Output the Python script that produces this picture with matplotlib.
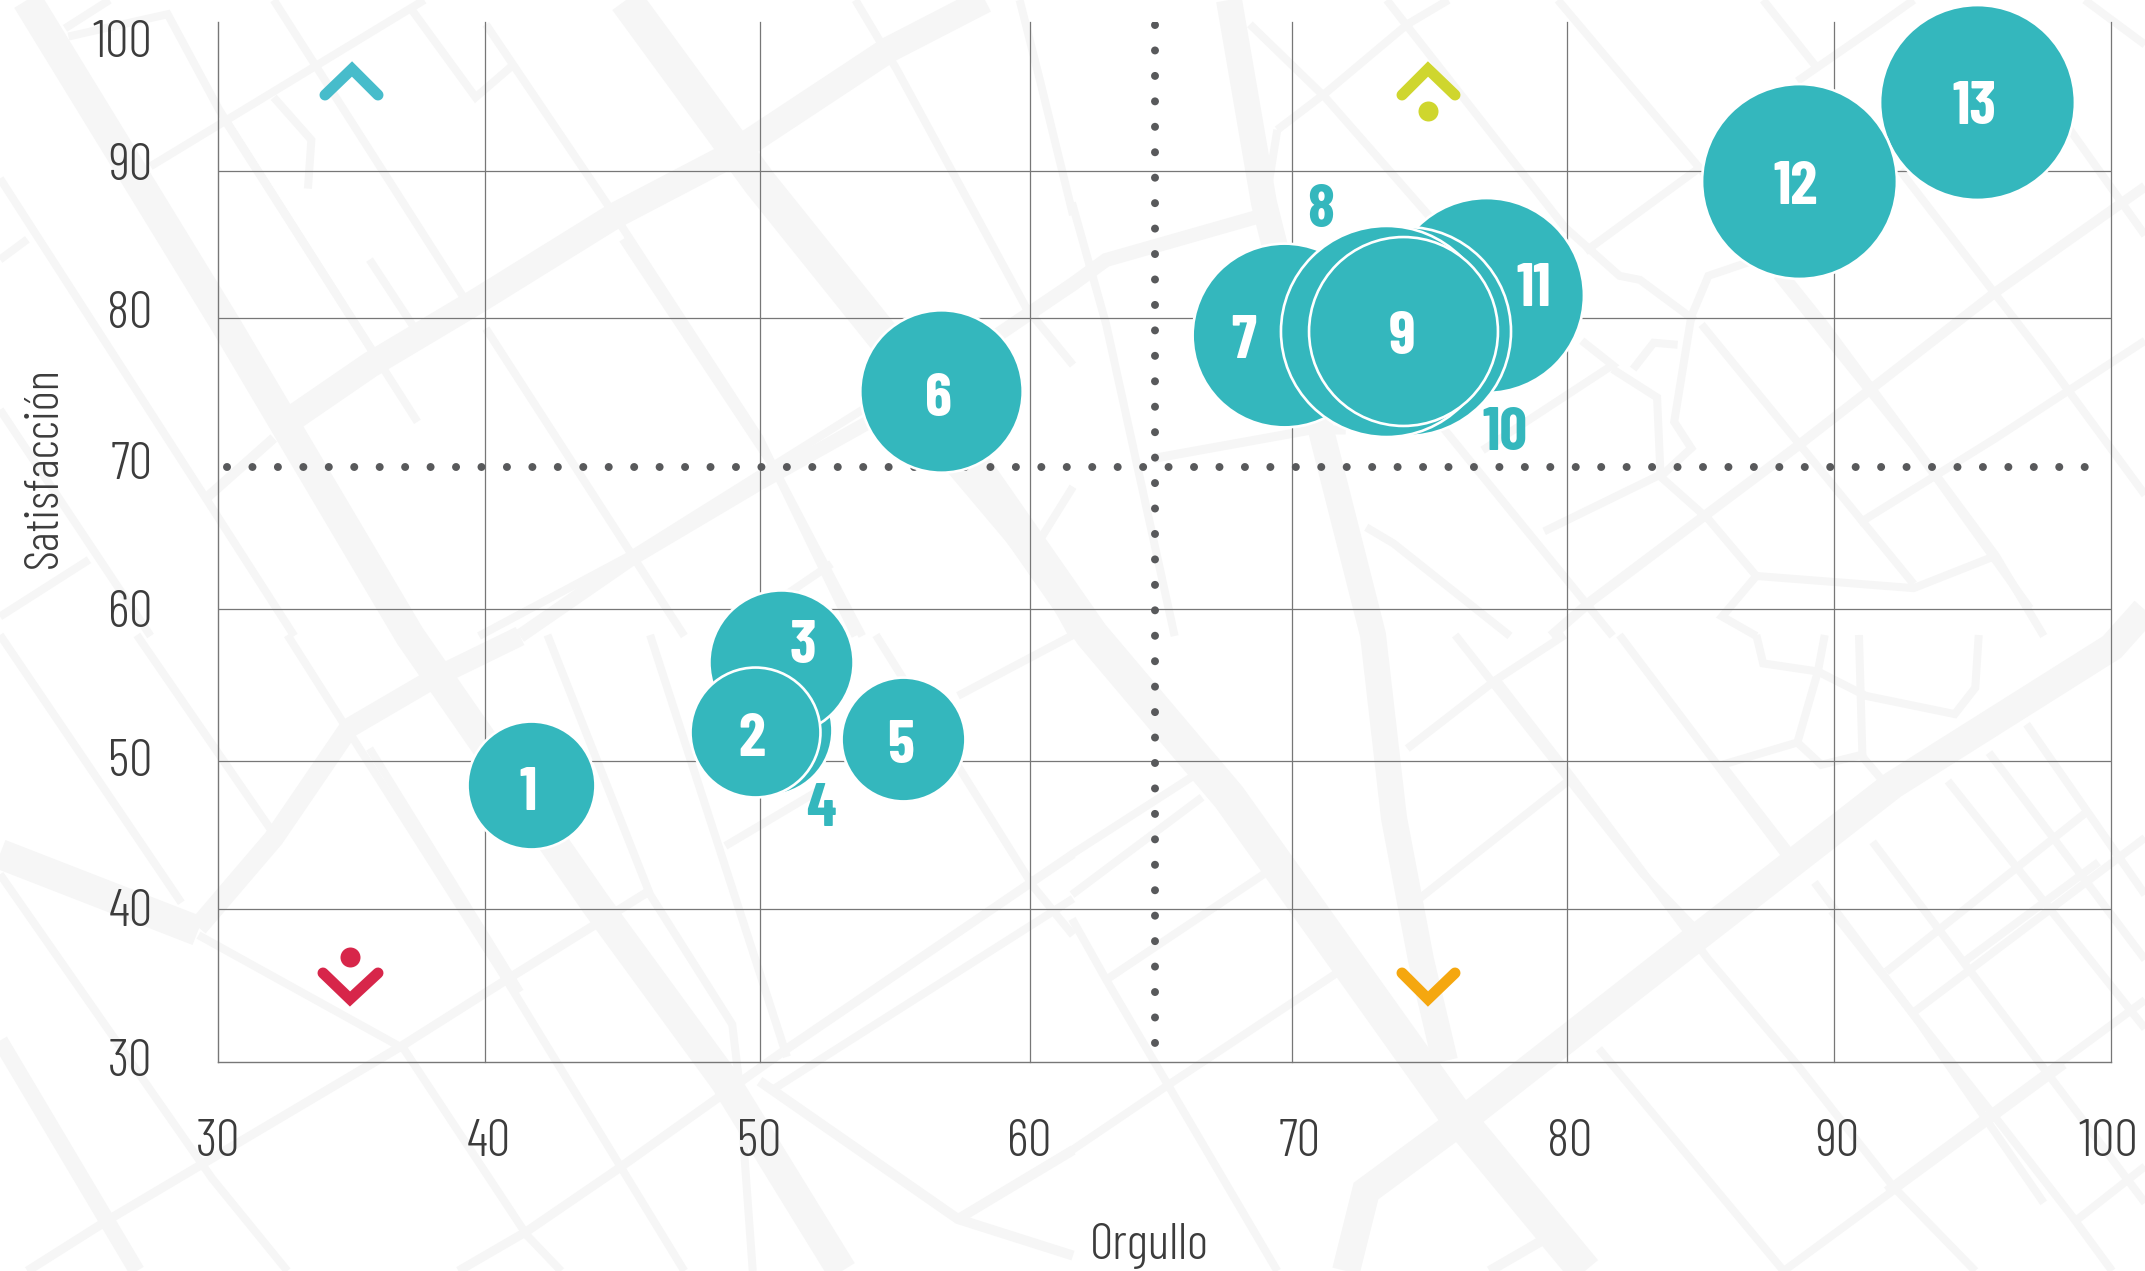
#coding=utf-8
import matplotlib
matplotlib.use('Agg')
import matplotlib.pyplot as plt

W, H = 2145, 1271
PX = 0.72  # one pixel in points at dpi=100

# burbujas
nums = ['1', '2', '3', '4', '5', '6', '7', '8', '9', '10', '11', '12', '13']
orgullo = [41.58, 49.86, 50.82, 50.30, 55.33, 56.74, 69.42, 73.19, 73.82, 73.93, 76.89, 88.47, 95.05]
satisf = [48.64, 52.21, 56.92, 52.35, 51.74, 75.16, 78.93, 79.20, 79.20, 79.20, 81.63, 89.30, 94.62]
areas = [8480, 8750, 10770, 8750, 7950, 13670, 17500, 23100, 18500, 22650, 19680, 19680, 19680]
draw_order = [0, 4, 5, 6, 10, 12, 11, 3, 2, 1, 9, 7, 8]

# etiquetas de las burbujas
label_x = [41.46, 49.75, 51.63, 52.30, 55.22, 56.63, 67.94, 70.79, 73.79, 77.60, 78.67, 88.32, 94.94]
label_y = [48.07, 51.64, 57.90, 46.93, 51.17, 74.59, 78.43, 87.31, 78.70, 72.30, 81.93, 88.86, 94.18]
label_teal = ['4', '8', '10']

# ejes
tick_labels = ['30', '40', '50', '60', '70', '80', '90', '100']
xtick_pos = [30.0, 40.0, 50.0, 60.0, 70.0, 80.0, 89.9, 99.9]
ytick_pos = [30.3, 40.4, 50.5, 60.5, 70.5, 80.65, 90.6, 98.9]
xgrid = [39.86, 50.04, 60.03, 69.72, 79.9, 89.77, 100.0]
ygrid = [40.3, 50.26, 60.49, 80.08, 89.97]
cut_x = 64.65
cut_y = 70.05

TEAL = '#34b7bd'
GREY = '#777777'
DOT = '#58595b'
INK = '#3c3c3c'
ROAD = '#f6f6f6'

# fondo: trazos del mapa (origen del recorte, ancho, puntos)
sx, sy = 1568 / 1073, 1568 / 636
roads = [
    # avenidas anchas en pixeles reales
    (None, 26, [(985, 0), (890, 49), (725, 158), (616, 215), (479, 300), (370, 365), (287, 422)]),
    (None, 30, [(27, 0), (226, 325), (410, 636), (595, 903), (725, 1081), (842, 1271)]),
    (None, 34, [(626, 0), (760, 183), (890, 345), (1092, 635), (1229, 797), (1455, 1114), (1585, 1271)]),
    (None, 26, [(1229, 0), (1264, 203), (1325, 446), (1373, 635), (1394, 818), (1421, 960), (1445, 1061)]),
    (None, 28, [(2145, 610), (2112, 647), (1893, 785), (1695, 939), (1476, 1110), (1366, 1191), (1346, 1271)]),
    (None, 30, [(0, 854), (198, 931)]),
    (None, 20, [(198, 927), (274, 838), (349, 728), (438, 676), (520, 636)]),
    (None, 14, [(520, 636), (630, 560), (760, 483), (869, 422), (1073, 284), (1106, 260), (1264, 215)]),
    # zona superior izquierda
    ((0, 0), 8, [(95, 70), (160, 0)]),
    ((0, 0), 8, [(100, 90), (245, 35), (320, 270), (550, 880)]),
    ((0, 0), 8, [(400, 0), (680, 740)]),
    ((0, 0), 8, [(600, 20), (695, 240), (750, 160)]),
    ((0, 0), 8, [(710, 60), (890, 510), (1110, 1080), (1250, 1568)]),
    ((0, 0), 8, [(1250, 0), (1310, 170), (1500, 760), (1568, 900)]),
    ((0, 0), 8, [(0, 440), (290, 1200), (430, 1568)]),
    ((0, 0), 8, [(620, 0), (220, 410)]),
    ((0, 0), 8, [(40, 590), (0, 640)]),
    ((0, 0), 8, [(400, 240), (455, 345), (450, 465)]),
    ((0, 0), 8, [(540, 640), (610, 820)]),
    ((0, 0), 8, [(330, 300), (610, 1040)]),
    ((0, 0), 8, [(710, 810), (1000, 1568)]),
    ((0, 0), 8, [(910, 590), (1130, 1150), (1260, 1568)]),
    ((0, 0), 10, [(300, 1230), (400, 1080)]),
    ((0, 0), 8, [(0, 1010), (220, 1568)]),
    ((0, 0), 8, [(0, 1520), (130, 1380)]),
    ((0, 0), 8, [(1270, 1000), (920, 1370), (700, 1568)]),
    ((0, 0), 8, [(1215, 1390), (1060, 1568)]),
    ((0, 0), 8, [(1510, 770), (1568, 700)]),
    ((0, 0), 8, [(1490, 0), (1520, 200), (1568, 530)]),
    ((0, 0), 8, [(1390, 1160), (1520, 1420), (1568, 1568)]),
    ((0, 0), 8, [(1520, 1330), (1568, 1200)]),
    # zona inferior izquierda
    ((0, 635), 8, [(0, 0), (265, 660)]),
    ((0, 635), 8, [(200, 0), (400, 490)]),
    ((0, 635), 8, [(420, 0), (740, 850), (1000, 1568)]),
    ((0, 635), 8, [(800, 0), (950, 640), (1070, 960), (1080, 1100), (1100, 1568)]),
    ((0, 635), 8, [(950, 0), (1150, 1040)]),
    ((0, 635), 8, [(290, 740), (590, 1020), (770, 1480), (820, 1568)]),
    ((0, 635), 8, [(0, 590), (310, 1340), (420, 1568)]),
    ((0, 635), 16, [(0, 1000), (200, 1568)]),
    ((0, 635), 9, [(1568, 540), (1150, 1020), (900, 1320), (770, 1470), (670, 1568)]),
    ((0, 635), 9, [(950, 630), (740, 850), (590, 1010), (430, 1170), (160, 1440), (40, 1568)]),
    ((0, 635), 8, [(1568, 650), (1130, 1120)]),
    ((0, 635), 10, [(1110, 1100), (1400, 1440), (1568, 1530)]),
    ((0, 635), 10, [(1400, 1440), (1568, 1270)]),
    ((0, 635), 8, [(1060, 520), (1200, 380)]),
    ((0, 635), 8, [(1280, 0), (1510, 620), (1568, 740)]),
    ((0, 635), 8, [(1568, 0), (1400, 150)]),
    ((0, 635), 8, [(540, 280), (760, 880)]),
    # zona superior derecha
    ((1072, 0), 8, [(460, 0), (720, 560), (800, 680), (830, 690), (910, 790)]),
    ((1072, 0), 8, [(1000, 640), (930, 680), (905, 780), (880, 1040), (905, 1105), (860, 1175), (930, 1280), (1000, 1420), (1230, 1450), (1350, 1370)]),
    ((1072, 0), 8, [(1000, 1420), (950, 1520), (1000, 1568)]),
    ((1072, 0), 8, [(820, 910), (850, 845), (885, 850)]),
    ((1072, 0), 8, [(790, 910), (855, 980), (860, 1170)]),
    ((1072, 0), 8, [(745, 840), (790, 900), (600, 1110)]),
    ((1072, 0), 8, [(300, 320), (370, 230), (490, 60), (550, 0)]),
    ((1072, 0), 8, [(260, 60), (370, 240), (640, 760)]),
    ((1072, 0), 8, [(300, 320), (280, 530), (50, 640), (0, 710)]),
    ((1072, 0), 9, [(120, 1130), (350, 1060), (400, 1060)]),
    ((1072, 0), 8, [(430, 1300), (470, 1340), (640, 1568)]),
    ((1072, 0), 8, [(690, 1310), (860, 1170)]),
    ((1072, 0), 8, [(750, 620), (920, 410)]),
    ((1072, 0), 8, [(710, 0), (920, 420), (1100, 800), (1350, 1370), (1420, 1568)]),
    ((1072, 0), 8, [(1090, 170), (1010, 0)]),
    ((1072, 0), 8, [(1060, 200), (1180, 60), (1230, 0)]),
    ((1072, 0), 8, [(1030, 680), (1230, 1100), (1400, 1500)]),
    ((1072, 0), 8, [(920, 800), (1230, 1440)]),
    ((1072, 0), 8, [(1210, 420), (1420, 880), (1568, 1220)]),
    ((1072, 0), 8, [(1480, 0), (1568, 110)]),
    ((1072, 0), 8, [(1450, 300), (1568, 580)]),
    ((1072, 0), 10, [(1568, 460), (1350, 720), (1060, 1100), (760, 1480), (700, 1568)]),
    ((1072, 0), 8, [(1150, 1290), (1350, 1080), (1568, 840)]),
    ((1072, 0), 8, [(540, 1050), (790, 1568)]),
    ((1072, 0), 8, [(0, 500), (50, 800), (150, 1568)]),
    # zona inferior derecha
    ((1072, 635), 8, [(1000, 0), (1010, 70), (1090, 90), (1160, 150), (1290, 195), (1320, 130), (1325, 0)]),
    ((1072, 635), 8, [(1100, 0), (1090, 90), (1060, 265), (950, 320), (1060, 560)]),
    ((1072, 635), 8, [(1150, 0), (1155, 295), (1095, 320), (1060, 265)]),
    ((1072, 635), 8, [(1155, 300), (1190, 370)]),
    ((1072, 635), 8, [(1085, 610), (1240, 960), (1420, 1400)]),
    ((1072, 635), 8, [(800, 0), (1050, 560)]),
    ((1072, 635), 8, [(560, 0), (835, 590), (920, 740)]),
    ((1072, 635), 8, [(720, 0), (620, 110), (490, 280)]),
    ((1072, 635), 8, [(725, 360), (500, 660)]),
    ((1072, 635), 8, [(620, 110), (730, 350), (930, 800), (1060, 1060), (1200, 1360), (1320, 1568)]),
    ((1072, 635), 8, [(0, 540), (175, 350)]),
    ((1072, 635), 8, [(0, 640), (190, 400)]),
    ((1072, 635), 8, [(50, 850), (280, 590)]),
    ((1072, 635), 8, [(0, 700), (50, 850), (300, 1568)]),
    ((1072, 635), 8, [(390, 830), (140, 1110), (0, 1270)]),
    ((1072, 635), 8, [(770, 1020), (1040, 1568)]),
    ((1072, 635), 8, [(1280, 360), (1568, 970)]),
    ((1072, 635), 8, [(1340, 290), (1568, 800)]),
    ((1072, 635), 8, [(1395, 220), (1568, 640)]),
    ((1072, 635), 8, [(1190, 830), (1480, 440)]),
    ((1072, 635), 8, [(1230, 930), (1568, 500)]),
    ((1072, 635), 8, [(1300, 810), (1500, 560)]),
    ((1072, 635), 8, [(1040, 1568), (1450, 1060)]),
    ((1072, 635), 8, [(1190, 1370), (1568, 900)]),
    ((1072, 635), 8, [(1170, 510), (1470, 1180), (1568, 1400)]),
    ((1072, 635), 8, [(1345, 1180), (1460, 1430), (1520, 1568)]),
    ((1072, 635), 8, [(1470, 1440), (1568, 1310)]),
    ((1072, 635), 8, [(1110, 680), (1345, 1180)]),
    ((1072, 635), 10, [(610, 1568), (690, 1490)]),
]

# iconos de los cuadrantes: color, puntos del angulo, punto
icons = [
    ('#47bccb', [(325, 95), (352, 69), (378, 95)], None),
    ('#cfd62e', [(1402, 95), (1428, 69), (1455, 95)], (1428, 111)),
    ('#d7264a', [(323, 973), (350, 999), (378, 973)], (350, 957)),
    ('#f5a70f', [(1402, 973), (1428, 999), (1455, 973)], None),
]

plt.rcParams['font.family'] = ['Barlow Condensed', 'Open Sans', 'DejaVu Sans']

fig = plt.figure(figsize=(W / 100, H / 100), dpi=100, facecolor='white')

bg = fig.add_axes([0, 0, 1, 1], zorder=0)
bg.set_xlim(0, W)
bg.set_ylim(H, 0)
bg.axis('off')
for origin, width, pts in roads:
    if origin is None:
        xs = [p[0] for p in pts]
        ys = [p[1] for p in pts]
    else:
        xs = [origin[0] + p[0] / sx for p in pts]
        ys = [origin[1] + p[1] / sy for p in pts]
    bg.plot(xs, ys, color=ROAD, lw=width * PX, solid_joinstyle='miter', solid_capstyle='butt')

for color, chevron, dot in icons:
    bg.plot([p[0] for p in chevron], [p[1] for p in chevron], color=color, lw=11 * PX,
            solid_capstyle='round', solid_joinstyle='miter')
    if dot is not None:
        bg.plot(dot[0], dot[1], 'o', color=color, ms=20 * PX, mew=0)

left, right, top, bottom = 218, 2111, 22, 1062
ax = fig.add_axes([left / W, 1 - bottom / H, (right - left) / W, (bottom - top) / H], zorder=1)
ax.patch.set_alpha(0)
ax.set_xlim(30, 100)
ax.set_ylim(30, 100)
for side in ['top', 'right']:
    ax.spines[side].set_visible(False)
for side in ['left', 'bottom']:
    ax.spines[side].set_color(GREY)
    ax.spines[side].set_linewidth(1.0)

ax.set_xticks(xtick_pos, tick_labels)
ax.set_yticks(ytick_pos, tick_labels)
ax.tick_params(axis='x', length=0, pad=41, labelsize=38, labelcolor=INK)
ax.tick_params(axis='y', length=0, pad=47, labelsize=38, labelcolor=INK)
for t in ax.get_xticklabels() + ax.get_yticklabels():
    t.set_fontweight(300)

for x in xgrid:
    ax.axvline(x, color=GREY, lw=0.9, zorder=1, clip_on=False)
for y in ygrid:
    ax.axhline(y, color=GREY, lw=0.9, zorder=1)

ax.plot([30.32, 99.45], [cut_y, cut_y], color=DOT, lw=8 * PX, zorder=2,
        linestyle=(0, (0.001, 3.18)), dash_capstyle='round')
ax.plot([cut_x, cut_x], [99.8, 30.2], color=DOT, lw=8 * PX, zorder=2,
        linestyle=(0, (0.001, 3.18)), dash_capstyle='round')

for rank, i in enumerate(draw_order):
    ax.scatter(orgullo[i], satisf[i], s=areas[i], color=TEAL, edgecolor='white',
               linewidth=1.9, zorder=3 + rank * 0.01, clip_on=False)

for n, x, y in zip(nums, label_x, label_y):
    ax.text(x, y, n, ha='center', va='center', fontsize=44, fontweight=700, zorder=4,
            color=TEAL if n in label_teal else 'white')

ax.set_xlabel('Orgullo', fontsize=37, fontweight=300, color=INK, va='center')
ax.xaxis.set_label_coords(0.4918, -0.177)
ax.set_ylabel('Satisfacción', fontsize=35, fontweight=300, color=INK, va='center')
ax.yaxis.set_label_coords(-0.0914, 0.572)

plt.savefig('out.png', dpi=100)
